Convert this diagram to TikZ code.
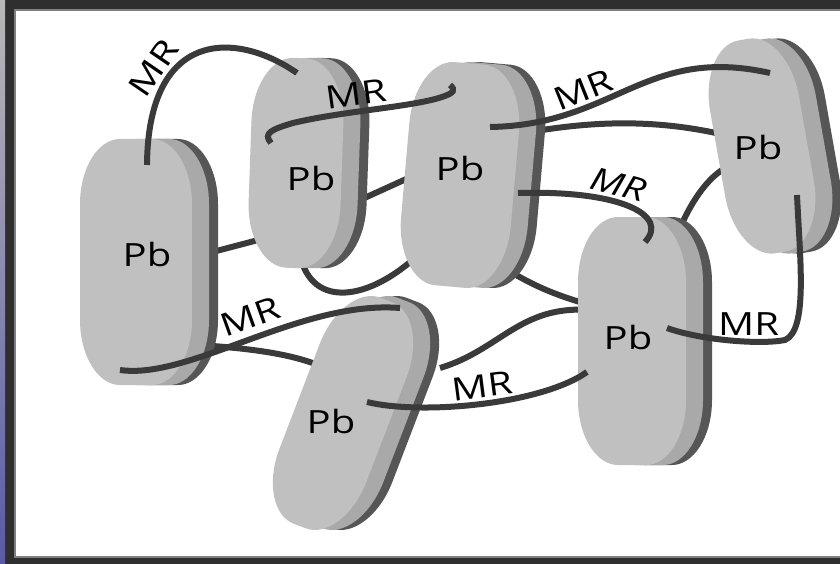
\documentclass[tikz,border=0pt]{standalone}
\usepackage{fontspec}
\newfontfamily\pbfont[FakeStretch=1.25]{Open Sans}
\usetikzlibrary{shadows}
\usetikzlibrary{backgrounds}

\definecolor{face}{HTML}{C0C0C0}
\definecolor{side}{HTML}{A9A9A9}
\definecolor{rim}{HTML}{565656}
\definecolor{tethercol}{HTML}{3A3A3A}
\definecolor{framegray}{HTML}{2F2F2F}

\begin{document}
\begin{tikzpicture}[
        x = 1pt, y = -1pt,
        blob/.style = {
            fill = face,
            general shadow = {fill = rim, shadow xshift = 26pt},
            general shadow = {fill = side, shadow xshift = 17pt}
        },
        pics/disk/.style 2 args = {
            code = {
                \path[blob]
                    (-#1/2, -#2/2+65) .. controls (-#1/2, -#2/2+29) and (-#1/2+18, -#2/2) .. (-#1/2+40, -#2/2)
                    -- (#1/2-40, -#2/2) .. controls (#1/2-18, -#2/2) and (#1/2, -#2/2+29) .. (#1/2, -#2/2+65)
                    -- (#1/2, #2/2-65) .. controls (#1/2, #2/2-29) and (#1/2-18, #2/2) .. (#1/2-40, #2/2)
                    -- (-#1/2+40, #2/2) .. controls (-#1/2+18, #2/2) and (-#1/2, #2/2-29) .. (-#1/2, #2/2-65)
                    -- cycle;
            }
        },
        tether/.style = {draw = tethercol, line width = 6pt},
        pb/.style = {font = \pbfont\fontsize{32}{36}\selectfont, inner sep = 0pt},
        mr/.style = {font = \pbfont\fontsize{32}{36}\selectfont, inner sep = 3pt}
    ]
    \useasboundingbox (0,0) rectangle (840,564);
    \begin{scope}[on background layer]
        \fill[framegray] (0,0) rectangle (840,564);
        \shade[top color = gray!55, middle color = blue!45!black, bottom color = blue!30!gray] (0,0) rectangle (5,564);
        \filldraw[fill = white, draw = gray, line width = 1.2pt] (15,10) rectangle (845,557);
    \end{scope}

    \coordinate (b1) at (136,262);
    \coordinate (b2) at (296,163);
    \coordinate (b3) at (460,175);
    \coordinate (b4) at (762,146);
    \coordinate (b5) at (632,341);
    \coordinate (b6) at (343,413);

    \pic at (b1) {disk={112}{246}};
    \pic[rotate = -2] at (b2) {disk={92}{210}};
    \pic[rotate = -5] at (b3) {disk={110}{224}};
    \pic[rotate = 10] at (b4) {disk={90}{216}};
    \pic at (b5) {disk={108}{248}};
    \pic[rotate = -21] at (b6) {disk={93}{242}};

    \node[pb] (p1) at ([shift={(11,-8)}]b1) {Pb};
    \node[pb] (p2) at ([shift={(15,15)}]b2) {Pb};
    \node[pb] (p3) at ([shift={(0,-6)}]b3) {Pb};
    \node[pb] (p4) at ([shift={(-4,2)}]b4) {Pb};
    \node[pb] (p5) at ([shift={(-4,-4)}]b5) {Pb};
    \node[pb] (p6) at ([shift={(-12,8)}]b6) {Pb};

    % tethers running behind the disks
    \begin{scope}[on background layer]
        \draw[tether] ([shift={(69,-8)}]b1) -- ([shift={(-34,76)}]b2);
        \draw[tether] ([shift={(64,37)}]b2) -- ([shift={(-45,0)}]b3);
        \draw[tether] ([shift={(4,92)}]b2) .. controls +(12,55) and +(-48,45) .. ([shift={(-42,80)}]b3);
        \draw[tether] ([shift={(70,-43)}]b3) .. controls +(70,-12) and +(-65,-15) .. ([shift={(-37,-11)}]b4);
        \draw[tether] ([shift={(48,-113)}]b5) .. controls +(10,-23) and +(-20,12) .. ([shift={(-37,22)}]b4);
        \draw[tether] ([shift={(64,83)}]b1) .. controls +(40,3) and +(-35,-16) .. ([shift={(-18,-45)}]b6);
        \draw[tether] ([shift={(97,-45)}]b6) .. controls +(60,-18) and +(-70,-5) .. ([shift={(-42,-31)}]b5);
        \draw[tether] ([shift={(35,87)}]b3) .. controls +(35,23) and +(-35,-10) .. ([shift={(-42,-36)}]b5);
    \end{scope}

    \draw[tether] ([shift={(11,-97)}]b1) .. controls +(1,-135) and +(-62,-43) .. ([shift={(1,-90)}]b2)
        node[mr, sloped, above, pos = .3] (mr1) {MR};
    \draw[tether] ([shift={(-25,-20)}]b2) .. controls +(-9,-10) and +(-20,6) .. ++(22,-20)
        .. controls +(50,-12) and +(-30,10) .. ([shift={(-18,-78)}]b3)
        node[mr, sloped, above, pos = .4] (mr2) {MR}
        .. controls +(12,-4) and +(6,5) .. ++(8,-12);
    \draw[tether] ([shift={(30,-48)}]b3) .. controls +(125,-2) and +(-125,-28) .. ([shift={(8,-73)}]b4)
        node[mr, sloped, above, pos = .33] (mr3) {MR};
    \draw[tether] ([shift={(58,18)}]b3) .. controls +(102,-3) and +(25,-27) .. ([shift={(13,-99)}]b5)
        node[mr, font = \pbfont\itshape\fontsize{32}{36}\selectfont, sloped, above, pos = .4] (mr4) {MR};
    \draw[tether] ([shift={(35,49)}]b4) .. controls +(3,65) and +(23,-10) .. ++(-12,145)
        .. controls +(-25,5) and +(33,12) .. ([shift={(35,-13)}]b5)
        node[mr, above, pos = .35] (mr5) {MR};
    \draw[tether] ([shift={(24,-11)}]b6) .. controls +(53,13) and +(-47,33) .. ([shift={(-45,31)}]b5)
        node[mr, sloped, above, pos = .52] (mr6) {MR};
    \draw[tether] ([shift={(-16,108)}]b1) .. controls +(70,10) and +(-100,-8) .. ([shift={(57,-105)}]b6)
        node[mr, sloped, above = 4pt, pos = .53] (mr7) {MR};
\end{tikzpicture}
\end{document}
